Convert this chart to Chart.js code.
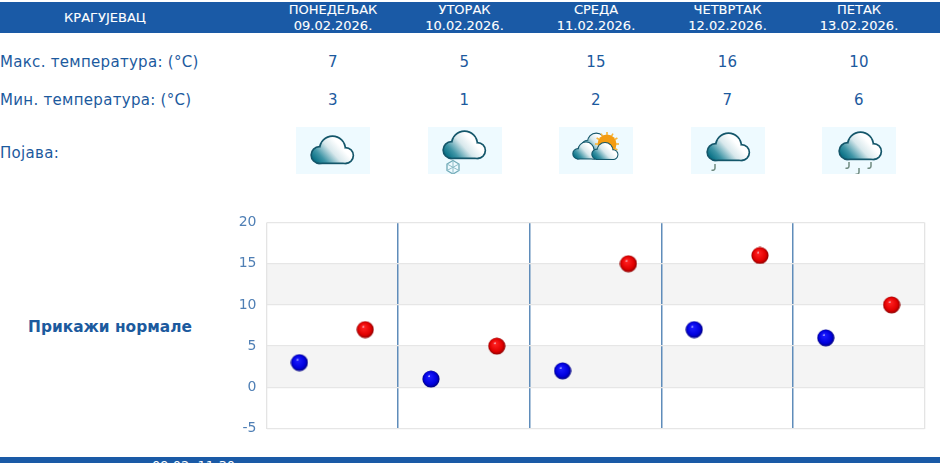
<!DOCTYPE html>
<html><head><meta charset="utf-8">
<script src="https://cdn.jsdelivr.net/npm/chart.js@4"></script>
<style>
html,body{margin:0;padding:0;background:#fff;width:940px;height:463px;overflow:hidden;font-family:"DejaVu Sans",sans-serif;color:#1c5a9e}
.t{position:absolute;white-space:nowrap}
.c{transform:translateX(-50%);text-align:center}
#hdr{position:absolute;left:0;top:2px;width:940px;height:31px;background:#1a5aa6}
#ftr{position:absolute;left:0;top:457px;width:940px;height:6px;background:#1a5aa6;overflow:hidden}
.h{color:#fff;font-size:13px;line-height:16px;top:2px;-webkit-text-stroke:0.1px #fff}
.v{font-size:15px;line-height:18px;letter-spacing:.3px}
.icon{position:absolute;top:127px;width:74px;height:47px;background:#eefaff}
canvas#c{position:absolute;left:230px;top:210px}
</style></head><body>
<div id="hdr"></div><div id="ftr"></div>
<div id="txt"></div>
<canvas id="c" width="710" height="235" style="width:710px;height:235px"></canvas>
<script>
const station = "КРАГУЈЕВАЦ";
const dayNames = ["ПОНЕДЕЉАК","УТОРАК","СРЕДА","ЧЕТВРТАК","ПЕТАК"];
const dates = ["09.02.2026.","10.02.2026.","11.02.2026.","12.02.2026.","13.02.2026."];
const maxTemps = [7,5,15,16,10];
const minTemps = [3,1,2,7,6];
const icons = ["cloud","snow","partly","lightrain","rain"];
const yTicks = [-5,0,5,10,15,20];
const rowLabels = ["Макс. температура: (°C)","Мин. температура: (°C)","Појава:"];
const normalsLabel = "Прикажи нормале";
const footerTime = "09.02. 11:30";

const colX = [333,464.5,596,727.5,859];
const txt = document.getElementById('txt');
function add(cls,style,html){const d=document.createElement('div');d.className='t '+cls;d.style.cssText=style;d.innerHTML=html;txt.appendChild(d);return d;}
add('h c','left:105px;top:10px;',station);
dayNames.forEach((n,i)=>{add('h c','left:'+colX[i]+'px;',n+'<br>'+dates[i]);});
add('v','left:0;top:53px;',rowLabels[0]);
add('v','left:0;top:91px;',rowLabels[1]);
add('v','left:0;top:144px;',rowLabels[2]);
maxTemps.forEach((v,i)=>add('v c','left:'+colX[i]+'px;top:53px;',v));
minTemps.forEach((v,i)=>add('v c','left:'+colX[i]+'px;top:91px;',v));
add('','left:28px;top:318px;font-size:15.4px;font-weight:bold;line-height:18px;',normalsLabel);
add('','left:152px;top:458px;font-size:13px;line-height:15px;color:#fff;z-index:5;height:5px;overflow:hidden;',footerTime);

let gid=0;
function cloud(ox,oy,s){
 const id='g'+(gid++);
 const shapes=`<circle cx="8" cy="19" r="7.5"/><circle cx="21" cy="13" r="12"/><circle cx="34" cy="19.5" r="7"/><rect x="8" y="14" width="26" height="12.5"/>`;
 return `<g transform="translate(${ox},${oy}) scale(${s})"><linearGradient id="${id}" gradientUnits="userSpaceOnUse" x1="6" y1="27" x2="27" y2="8"><stop offset="0" stop-color="#0b7287"/><stop offset=".25" stop-color="#3f95a6"/><stop offset=".65" stop-color="#d8e8ec"/><stop offset="1" stop-color="#fff"/></linearGradient>`+
 `<g fill="#14566a" stroke="#14566a" stroke-width="3.4">${shapes}</g><g fill="url(#${id})">${shapes}</g></g>`;
}
function hook(x,y){return `<path d="M${x} ${y-4}v4q0 2.5 -3.5 2.2" fill="none" stroke="#6f8a80" stroke-width="1.5"/>`;}
function svgIcon(kind){
 let b='';
 if(kind==='cloud') b=cloud(15.5,9,1);
 if(kind==='snow'){
  b=cloud(15.5,4,1)+`<polygon points="25,33.5 31,37 31,43.5 25,47 19,43.5 19,37" fill="none" stroke="#6fa9b6" stroke-width="1.3"/><path d="M25 33.5V47M19 37L31 43.5M31 37L19 43.5" stroke="#8dbcc7" stroke-width="1"/>`;
 }
 if(kind==='partly'){
  let rays='';
  for(let a=0;a<360;a+=30){const r=a*Math.PI/180;rays+=`<line x1="${48+9*Math.cos(r)}" y1="${17+9*Math.sin(r)}" x2="${48+12*Math.cos(r)}" y2="${17+12*Math.sin(r)}" stroke="#f7b63c" stroke-width="1.6"/>`;}
  b=cloud(23,6,.68)+`<circle cx="48" cy="17" r="9.5" fill="#f39c12"/>`+rays+cloud(14,15,.62)+cloud(33,15.5,.62);
 }
 if(kind==='lightrain') b=cloud(16.5,6,1)+hook(24,41);
 if(kind==='rain') b=cloud(17.5,5,1)+hook(27,39)+hook(37,45)+hook(49,39);
 return `<svg width="74" height="47" viewBox="0 0 74 47" xmlns="http://www.w3.org/2000/svg">${b}</svg>`;
}
icons.forEach((k,i)=>{const d=document.createElement('div');d.className='icon';d.style.left=(colX[i]-37)+'px';d.innerHTML=svgIcon(k);txt.appendChild(d);});

function ball(c1,c2,c3){
 const c=document.createElement('canvas');c.width=18;c.height=18;const g=c.getContext('2d');
 const r=g.createRadialGradient(7,6,0.3,9,9,9);
 r.addColorStop(0,'#eef');r.addColorStop(.1,c1);r.addColorStop(.7,c2);r.addColorStop(1,c3);
 g.fillStyle=r;g.beginPath();g.arc(9,9,8.6,0,Math.PI*2);g.fill();return c;
}
const bands={id:'bands',beforeDraw(ch){
 const {ctx,chartArea:a,scales:{y}}=ch;ctx.save();ctx.fillStyle='#f4f4f4';
 [[0,5],[10,15]].forEach(([lo,hi])=>{ctx.fillRect(a.left,y.getPixelForValue(hi),a.right-a.left,y.getPixelForValue(lo)-y.getPixelForValue(hi));});
 ctx.restore();}};
const maxPts=maxTemps.map((v,i)=>({x:i+0.75,y:v}));
const minPts=minTemps.map((v,i)=>({x:i+0.25,y:v}));
new Chart(document.getElementById('c'),{
 type:'scatter',
 data:{datasets:[
  {label:'Мин',data:minPts,pointStyle:ball('#1a1aff','#0000dc','#000070'),pointRadius:9,showLine:false},
  {label:'Макс',data:maxPts,pointStyle:ball('#ff2020','#e00000','#800000'),pointRadius:9,showLine:false}
 ]},
 plugins:[bands],
 options:{responsive:false,animation:false,
  layout:{padding:{left:0,right:15.5,top:12.5,bottom:16.5}},
  plugins:{legend:{display:false},tooltip:{enabled:false}},
  scales:{
   x:{type:'linear',min:0,max:5,afterBuildTicks(s){s.ticks=[0,1,2,3,4,5].map(v=>({value:v}));},
      ticks:{display:false},
      grid:{drawTicks:false,lineWidth:c=>(c.index===0||c.index===5)?1.3:1.5,color:c=>(c.index===0||c.index===5)?'#e4e4e4':'#5f8cba'},
      border:{display:false}},
   y:{min:-5,max:20,afterBuildTicks(s){s.ticks=yTicks.map(v=>({value:v}));},
      afterFit(s){s.width=36.5;s.paddingTop=0;s.paddingBottom=0;},
      ticks:{color:'#4f7fb5',font:{size:14,family:'"DejaVu Sans"'},padding:10},
      grid:{color:'#e6e6e6',lineWidth:1.3,drawTicks:false},
      border:{display:false}}
  }}
});
</script></body></html>
